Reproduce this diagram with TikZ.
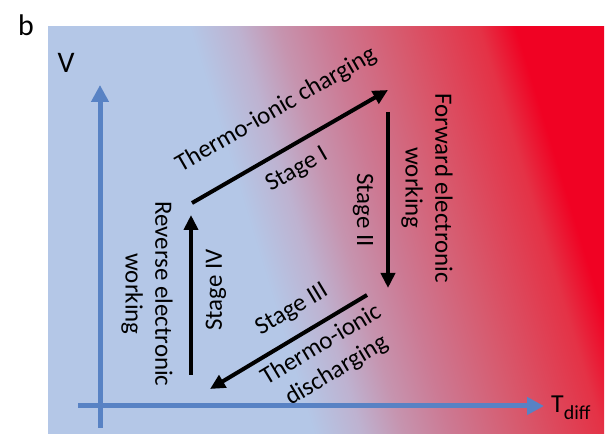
\documentclass[tikz,border=0pt]{standalone}
\usepackage{fontspec}
\setmainfont{Carlito}
\usepackage{tikz}
\usetikzlibrary{arrows.meta, positioning}
\definecolor{bgblue}{RGB}{180,199,231}
\definecolor{bglilac}{RGB}{190,178,208}
\definecolor{bgmauve}{RGB}{198,148,175}
\definecolor{bgpink}{RGB}{204,122,148}
\definecolor{bgrose}{RGB}{215,90,110}
\definecolor{bgcoral}{RGB}{228,50,70}
\definecolor{bgred}{RGB}{240,2,35}
\definecolor{axisblue}{RGB}{88,130,196}
\pgfdeclarehorizontalshading{heatshade}{100bp}{color(0bp)=(bgblue); color(44.6bp)=(bgblue); color(47.9bp)=(bglilac); color(50.7bp)=(bgmauve); color(53.9bp)=(bgpink); color(58.8bp)=(bgrose); color(64.4bp)=(bgcoral); color(66.9bp)=(bgred); color(100bp)=(bgred)}
\tikzstyle{stagearrow} = [line width=4bp, -{Triangle[length=15bp,width=14bp]}]
\tikzstyle{axis} = [line width=5bp, draw=axisblue, -{Triangle[length=17bp,width=17bp]}]
\tikzstyle{cyclelabel} = [inner sep=0pt, align=center, font={\fontsize{25}{30}\selectfont}]
\tikzset{
  font={\fontsize{25}{30}\selectfont}}

\begin{document}
\begin{tikzpicture}[x=1bp, y=1bp]
    \useasboundingbox (0,0) rectangle (612,440);

    % background gradient
    \begin{scope}
      \clip (48,6) rectangle (604,413);
      \begin{scope}[transform canvas={rotate around={17:(326,210)}}]
        \shade[shading=heatshade] (-20,-90) rectangle (680,510);
      \end{scope}
    \end{scope}

    \node (panel) at (26,415) [font={\fontsize{30}{30}\selectfont}] {b};

    % axes
    \coordinate (vbottom) at (100,12);
    \coordinate (vtop) at (100,355);
    \coordinate (tleft) at (78,34);
    \coordinate (tright) at (544,34);
    \draw [axis] (vbottom) -- (vtop);
    \draw [axis] (tleft) -- (tright);
    \node (vlabel) at (66,377) [font={\fontsize{30}{30}\selectfont}] {V};
    \node (tlabel) at (551,27) [anchor=base west, inner sep=0pt, font={\fontsize{26}{26}\selectfont}]
    {T\raisebox{-7bp}{\fontsize{20}{20}\selectfont diff}};

    % corners of the cycle
    \coordinate (s1a) at (192,237);
    \coordinate (s1b) at (388,350);
    \coordinate (s2a) at (388,328);
    \coordinate (s2b) at (388,152);
    \coordinate (s3a) at (367,145);
    \coordinate (s3b) at (210,51);
    \coordinate (s4a) at (191,65);
    \coordinate (s4b) at (191,225);

    \draw [stagearrow] (s1a) -- (s1b);
    \draw [stagearrow] (s2a) -- (s2b);
    \draw [stagearrow] (s3a) -- (s3b);
    \draw [stagearrow] (s4a) -- (s4b);

    \node (charging) at (276,330) [cyclelabel, rotate=30] {Thermo-ionic charging};
    \node (stage1) at (297,270) [cyclelabel, rotate=30] {Stage I};
    \node (stage2) at (363,230) [cyclelabel, rotate=-90] {Stage II};
    \node (forward) at (427,252) [cyclelabel, rotate=-90] {Forward electronic\\working};
    \node (stage3) at (292,130) [cyclelabel, rotate=31] {Stage III};
    \node (discharging) at (329,82) [cyclelabel, rotate=31] {Thermo-ionic\\discharging};
    \node (stage4) at (216,150) [cyclelabel, rotate=90] {Stage IV};
    \node (reverse) at (147,146) [cyclelabel, rotate=-90] {Reverse electronic\\working};
\end{tikzpicture}
\end{document}
